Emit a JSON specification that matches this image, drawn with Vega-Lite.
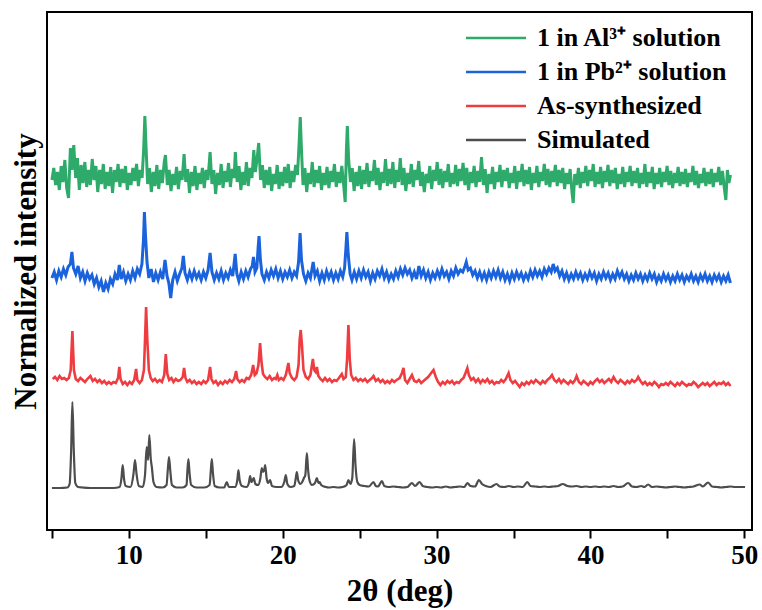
{
"$schema": "https://vega.github.io/schema/vega-lite/v6.json",
"width": 705, "height": 518,
"autosize": {"type": "none"},
"padding": {"left": 47, "top": 12, "right": 10, "bottom": 80},
"background": "white",
"config": {
  "view": {"stroke": "black", "strokeWidth": 2},
  "font": "Liberation Serif",
  "axis": {"grid": false, "labelFont": "Liberation Serif", "titleFont": "Liberation Serif", "labelFontWeight": "bold", "titleFontWeight": "bold", "labelColor": "black", "titleColor": "black"}
},
"datasets": {
"K": [{"x":5.0,"y":42},{"x":5.5,"y":42},{"x":6.0,"y":42.5},{"x":6.15,"y":46},{"x":6.25,"y":80},{"x":6.33,"y":128},{"x":6.42,"y":80},{"x":6.52,"y":47},{"x":6.7,"y":43},{"x":7.0,"y":42.5},{"x":7.5,"y":42},{"x":8.0,"y":42},{"x":8.5,"y":42},{"x":9.0,"y":42},{"x":9.4,"y":43},{"x":9.52,"y":52},{"x":9.6,"y":65},{"x":9.68,"y":52},{"x":9.8,"y":44},{"x":10.1,"y":43},{"x":10.3,"y":56},{"x":10.4,"y":70},{"x":10.5,"y":56},{"x":10.65,"y":44},{"x":10.9,"y":43},{"x":11.05,"y":55},{"x":11.16,"y":83},{"x":11.25,"y":70},{"x":11.33,"y":95},{"x":11.42,"y":72},{"x":11.5,"y":62},{"x":11.6,"y":48},{"x":11.8,"y":43},{"x":12.2,"y":42.5},{"x":12.45,"y":45},{"x":12.53,"y":60},{"x":12.61,"y":73},{"x":12.7,"y":58},{"x":12.8,"y":45},{"x":13.1,"y":42.5},{"x":13.5,"y":42.5},{"x":13.75,"y":45},{"x":13.8,"y":58},{"x":13.87,"y":71},{"x":13.95,"y":56},{"x":14.05,"y":45},{"x":14.4,"y":42.5},{"x":14.9,"y":42.5},{"x":15.25,"y":45},{"x":15.32,"y":58},{"x":15.39,"y":71},{"x":15.47,"y":56},{"x":15.58,"y":44},{"x":15.9,"y":42.5},{"x":16.2,"y":42.5},{"x":16.36,"y":48},{"x":16.5,"y":43},{"x":16.9,"y":43},{"x":17.05,"y":50},{"x":17.12,"y":60},{"x":17.2,"y":50},{"x":17.35,"y":44},{"x":17.65,"y":43},{"x":17.8,"y":47},{"x":17.88,"y":54},{"x":17.97,"y":48},{"x":18.05,"y":50},{"x":18.12,"y":52},{"x":18.22,"y":46},{"x":18.4,"y":45},{"x":18.55,"y":52},{"x":18.64,"y":62},{"x":18.72,"y":58},{"x":18.8,"y":60},{"x":18.86,"y":65},{"x":18.95,"y":52},{"x":19.05,"y":47},{"x":19.18,"y":50},{"x":19.3,"y":44},{"x":19.6,"y":43},{"x":19.9,"y":43},{"x":20.1,"y":48},{"x":20.2,"y":55},{"x":20.3,"y":46},{"x":20.5,"y":43},{"x":20.75,"y":44},{"x":20.85,"y":52},{"x":20.92,"y":58},{"x":21.0,"y":50},{"x":21.15,"y":46},{"x":21.3,"y":49},{"x":21.38,"y":52},{"x":21.47,"y":55},{"x":21.57,"y":77},{"x":21.65,"y":60},{"x":21.75,"y":49},{"x":21.9,"y":45},{"x":22.1,"y":47},{"x":22.22,"y":52},{"x":22.32,"y":47},{"x":22.4,"y":48},{"x":22.5,"y":45},{"x":22.8,"y":43},{"x":23.0,"y":42.5},{"x":23.3,"y":43},{"x":23.6,"y":42.5},{"x":23.9,"y":43},{"x":24.15,"y":45},{"x":24.27,"y":50},{"x":24.4,"y":46},{"x":24.52,"y":52},{"x":24.64,"y":91},{"x":24.73,"y":65},{"x":24.85,"y":48},{"x":25.0,"y":45},{"x":25.3,"y":44},{"x":25.6,"y":43.5},{"x":25.9,"y":48},{"x":26.05,"y":44},{"x":26.2,"y":43.5},{"x":26.45,"y":49},{"x":26.6,"y":44},{"x":26.9,"y":43},{"x":27.2,"y":43.5},{"x":27.5,"y":43},{"x":27.8,"y":42.5},{"x":28.1,"y":43},{"x":28.4,"y":47},{"x":28.6,"y":44},{"x":28.9,"y":48},{"x":29.1,"y":44},{"x":29.4,"y":43},{"x":29.7,"y":42.5},{"x":30.0,"y":43},{"x":30.3,"y":42.5},{"x":30.6,"y":43.5},{"x":30.9,"y":42.5},{"x":31.2,"y":43},{"x":31.5,"y":43.5},{"x":31.8,"y":43},{"x":32.0,"y":47},{"x":32.2,"y":44},{"x":32.5,"y":43.5},{"x":32.75,"y":50},{"x":32.95,"y":46},{"x":33.2,"y":44},{"x":33.5,"y":43},{"x":33.9,"y":46},{"x":34.1,"y":43.5},{"x":34.4,"y":43},{"x":34.7,"y":44},{"x":35.0,"y":43},{"x":35.3,"y":43.5},{"x":35.6,"y":43},{"x":35.9,"y":48},{"x":36.1,"y":44},{"x":36.4,"y":43.5},{"x":36.7,"y":43},{"x":37.0,"y":43.5},{"x":37.3,"y":43},{"x":37.6,"y":43.5},{"x":37.9,"y":44},{"x":38.2,"y":46},{"x":38.5,"y":44},{"x":38.8,"y":43.5},{"x":39.1,"y":44},{"x":39.4,"y":43},{"x":39.7,"y":43.5},{"x":40.0,"y":43},{"x":40.3,"y":43.5},{"x":40.6,"y":43},{"x":40.9,"y":43.5},{"x":41.2,"y":43},{"x":41.5,"y":44},{"x":41.8,"y":43},{"x":42.1,"y":43.5},{"x":42.45,"y":47},{"x":42.7,"y":43.5},{"x":43.0,"y":43},{"x":43.3,"y":44},{"x":43.5,"y":43},{"x":43.75,"y":45.5},{"x":44.0,"y":43},{"x":44.3,"y":43.5},{"x":44.6,"y":43},{"x":44.9,"y":42.5},{"x":45.2,"y":43},{"x":45.5,"y":43.5},{"x":45.8,"y":43},{"x":46.1,"y":42.5},{"x":46.4,"y":43},{"x":46.7,"y":43.5},{"x":47.1,"y":45.5},{"x":47.3,"y":43.5},{"x":47.65,"y":47.5},{"x":47.9,"y":43.5},{"x":48.2,"y":43},{"x":48.5,"y":42.5},{"x":48.8,"y":43},{"x":49.1,"y":43.5},{"x":49.4,"y":43},{"x":49.7,"y":43},{"x":50.05,"y":43}],
"R": [{"x":5.05,"y":151},{"x":5.2,"y":153},{"x":5.35,"y":150},{"x":5.5,"y":154},{"x":5.65,"y":151},{"x":5.8,"y":152},{"x":5.95,"y":150},{"x":6.1,"y":152},{"x":6.22,"y":160},{"x":6.33,"y":199},{"x":6.43,"y":160},{"x":6.55,"y":151},{"x":6.7,"y":149},{"x":6.85,"y":152},{"x":7.0,"y":150},{"x":7.15,"y":148},{"x":7.3,"y":151},{"x":7.5,"y":154},{"x":7.65,"y":149},{"x":7.8,"y":151},{"x":7.95,"y":148},{"x":8.1,"y":150},{"x":8.25,"y":147},{"x":8.4,"y":149},{"x":8.55,"y":146},{"x":8.7,"y":148},{"x":8.85,"y":146},{"x":9.0,"y":148},{"x":9.15,"y":147},{"x":9.3,"y":152},{"x":9.38,"y":163},{"x":9.46,"y":151},{"x":9.6,"y":146},{"x":9.75,"y":148},{"x":9.9,"y":145},{"x":10.05,"y":148},{"x":10.2,"y":146},{"x":10.35,"y":150},{"x":10.47,"y":161},{"x":10.55,"y":150},{"x":10.7,"y":147},{"x":10.85,"y":150},{"x":10.98,"y":160},{"x":11.05,"y":190},{"x":11.12,"y":223},{"x":11.2,"y":190},{"x":11.3,"y":160},{"x":11.42,"y":152},{"x":11.55,"y":149},{"x":11.7,"y":151},{"x":11.85,"y":148},{"x":12.0,"y":150},{"x":12.15,"y":148},{"x":12.3,"y":155},{"x":12.4,"y":176},{"x":12.5,"y":156},{"x":12.62,"y":150},{"x":12.77,"y":152},{"x":12.9,"y":148},{"x":13.05,"y":151},{"x":13.2,"y":149},{"x":13.35,"y":150},{"x":13.5,"y":153},{"x":13.59,"y":162},{"x":13.68,"y":152},{"x":13.8,"y":148},{"x":13.95,"y":150},{"x":14.1,"y":147},{"x":14.25,"y":149},{"x":14.4,"y":146},{"x":14.55,"y":148},{"x":14.7,"y":146},{"x":14.85,"y":149},{"x":15.0,"y":147},{"x":15.15,"y":150},{"x":15.28,"y":163},{"x":15.37,"y":151},{"x":15.5,"y":147},{"x":15.65,"y":149},{"x":15.8,"y":145},{"x":15.95,"y":148},{"x":16.1,"y":146},{"x":16.25,"y":149},{"x":16.4,"y":147},{"x":16.55,"y":150},{"x":16.7,"y":148},{"x":16.85,"y":151},{"x":16.97,"y":159},{"x":17.05,"y":151},{"x":17.2,"y":148},{"x":17.35,"y":150},{"x":17.5,"y":148},{"x":17.65,"y":152},{"x":17.8,"y":151},{"x":17.95,"y":155},{"x":18.08,"y":165},{"x":18.18,"y":155},{"x":18.3,"y":157},{"x":18.42,"y":165},{"x":18.53,"y":187},{"x":18.62,"y":168},{"x":18.72,"y":156},{"x":18.85,"y":153},{"x":19.0,"y":151},{"x":19.15,"y":154},{"x":19.3,"y":150},{"x":19.45,"y":152},{"x":19.55,"y":151},{"x":19.65,"y":155},{"x":19.75,"y":150},{"x":19.9,"y":152},{"x":20.05,"y":150},{"x":20.2,"y":155},{"x":20.3,"y":162},{"x":20.37,"y":167},{"x":20.45,"y":157},{"x":20.6,"y":152},{"x":20.75,"y":150},{"x":20.9,"y":153},{"x":21.03,"y":165},{"x":21.1,"y":190},{"x":21.17,"y":200},{"x":21.25,"y":185},{"x":21.35,"y":160},{"x":21.5,"y":153},{"x":21.65,"y":151},{"x":21.8,"y":155},{"x":21.9,"y":165},{"x":21.96,"y":171},{"x":22.05,"y":160},{"x":22.14,"y":158},{"x":22.22,"y":163},{"x":22.32,"y":154},{"x":22.45,"y":151},{"x":22.6,"y":149},{"x":22.75,"y":152},{"x":22.9,"y":149},{"x":23.05,"y":151},{"x":23.2,"y":148},{"x":23.35,"y":150},{"x":23.5,"y":149},{"x":23.65,"y":152},{"x":23.84,"y":156},{"x":23.95,"y":151},{"x":24.1,"y":153},{"x":24.18,"y":170},{"x":24.27,"y":205},{"x":24.36,"y":170},{"x":24.45,"y":155},{"x":24.6,"y":150},{"x":24.75,"y":152},{"x":24.9,"y":149},{"x":25.05,"y":151},{"x":25.2,"y":149},{"x":25.35,"y":151},{"x":25.5,"y":148},{"x":25.65,"y":150},{"x":25.8,"y":152},{"x":25.9,"y":154},{"x":26.05,"y":149},{"x":26.2,"y":151},{"x":26.35,"y":148},{"x":26.5,"y":150},{"x":26.65,"y":147},{"x":26.8,"y":149},{"x":26.95,"y":147},{"x":27.1,"y":150},{"x":27.25,"y":148},{"x":27.4,"y":150},{"x":27.6,"y":152},{"x":27.75,"y":157},{"x":27.85,"y":162},{"x":27.95,"y":150},{"x":28.1,"y":147},{"x":28.25,"y":151},{"x":28.4,"y":155},{"x":28.55,"y":149},{"x":28.7,"y":148},{"x":28.85,"y":150},{"x":29.0,"y":147},{"x":29.15,"y":149},{"x":29.3,"y":151},{"x":29.45,"y":153},{"x":29.6,"y":156},{"x":29.8,"y":160},{"x":29.95,"y":153},{"x":30.1,"y":148},{"x":30.25,"y":145},{"x":30.4,"y":148},{"x":30.55,"y":146},{"x":30.7,"y":149},{"x":30.85,"y":147},{"x":31.0,"y":149},{"x":31.15,"y":146},{"x":31.3,"y":148},{"x":31.45,"y":147},{"x":31.6,"y":150},{"x":31.75,"y":152},{"x":31.88,"y":157},{"x":32.0,"y":162},{"x":32.1,"y":155},{"x":32.25,"y":150},{"x":32.4,"y":152},{"x":32.55,"y":148},{"x":32.7,"y":151},{"x":32.85,"y":147},{"x":33.0,"y":150},{"x":33.15,"y":148},{"x":33.3,"y":151},{"x":33.45,"y":147},{"x":33.6,"y":149},{"x":33.75,"y":146},{"x":33.9,"y":148},{"x":34.05,"y":147},{"x":34.2,"y":150},{"x":34.35,"y":148},{"x":34.5,"y":151},{"x":34.68,"y":157},{"x":34.8,"y":150},{"x":34.95,"y":147},{"x":35.1,"y":149},{"x":35.25,"y":146},{"x":35.4,"y":143},{"x":35.55,"y":147},{"x":35.7,"y":145},{"x":35.85,"y":148},{"x":36.0,"y":146},{"x":36.15,"y":149},{"x":36.3,"y":147},{"x":36.45,"y":150},{"x":36.6,"y":148},{"x":36.75,"y":146},{"x":36.9,"y":149},{"x":37.05,"y":147},{"x":37.2,"y":150},{"x":37.35,"y":152},{"x":37.5,"y":155},{"x":37.65,"y":150},{"x":37.8,"y":148},{"x":37.95,"y":151},{"x":38.1,"y":147},{"x":38.25,"y":150},{"x":38.4,"y":148},{"x":38.55,"y":146},{"x":38.7,"y":149},{"x":38.85,"y":147},{"x":39.0,"y":150},{"x":39.1,"y":154},{"x":39.25,"y":148},{"x":39.4,"y":146},{"x":39.55,"y":149},{"x":39.7,"y":147},{"x":39.85,"y":145},{"x":40.0,"y":148},{"x":40.15,"y":146},{"x":40.3,"y":149},{"x":40.45,"y":151},{"x":40.6,"y":148},{"x":40.75,"y":150},{"x":40.9,"y":147},{"x":41.05,"y":149},{"x":41.2,"y":151},{"x":41.35,"y":148},{"x":41.5,"y":153},{"x":41.65,"y":149},{"x":41.8,"y":147},{"x":41.95,"y":150},{"x":42.1,"y":148},{"x":42.25,"y":146},{"x":42.4,"y":149},{"x":42.55,"y":147},{"x":42.7,"y":150},{"x":42.85,"y":148},{"x":43.0,"y":150},{"x":43.1,"y":153},{"x":43.25,"y":149},{"x":43.4,"y":146},{"x":43.55,"y":148},{"x":43.7,"y":145},{"x":43.85,"y":147},{"x":44.0,"y":145},{"x":44.15,"y":148},{"x":44.3,"y":146},{"x":44.45,"y":143},{"x":44.6,"y":146},{"x":44.75,"y":145},{"x":44.9,"y":147},{"x":45.05,"y":145},{"x":45.2,"y":148},{"x":45.35,"y":146},{"x":45.5,"y":144},{"x":45.65,"y":147},{"x":45.8,"y":145},{"x":45.95,"y":148},{"x":46.1,"y":146},{"x":46.25,"y":144},{"x":46.4,"y":146},{"x":46.55,"y":145},{"x":46.7,"y":148},{"x":46.85,"y":146},{"x":47.0,"y":143},{"x":47.15,"y":145},{"x":47.3,"y":147},{"x":47.45,"y":145},{"x":47.6,"y":147},{"x":47.75,"y":144},{"x":47.9,"y":146},{"x":48.05,"y":148},{"x":48.2,"y":145},{"x":48.35,"y":147},{"x":48.5,"y":146},{"x":48.65,"y":148},{"x":48.8,"y":145},{"x":48.95,"y":147},{"x":49.1,"y":144}],
"B": [{"x":5.0,"y":252},{"x":5.15,"y":258},{"x":5.3,"y":250},{"x":5.45,"y":259},{"x":5.6,"y":253},{"x":5.75,"y":261},{"x":5.9,"y":255},{"x":6.05,"y":263},{"x":6.2,"y":266},{"x":6.3,"y":278},{"x":6.4,"y":262},{"x":6.55,"y":256},{"x":6.7,"y":264},{"x":6.85,"y":252},{"x":7.0,"y":258},{"x":7.15,"y":249},{"x":7.3,"y":257},{"x":7.45,"y":251},{"x":7.6,"y":255},{"x":7.75,"y":246},{"x":7.9,"y":252},{"x":8.05,"y":243},{"x":8.2,"y":249},{"x":8.35,"y":238},{"x":8.5,"y":247},{"x":8.65,"y":241},{"x":8.8,"y":251},{"x":8.95,"y":246},{"x":9.1,"y":256},{"x":9.25,"y":250},{"x":9.38,"y":265},{"x":9.5,"y":251},{"x":9.65,"y":258},{"x":9.8,"y":249},{"x":9.95,"y":256},{"x":10.1,"y":250},{"x":10.25,"y":259},{"x":10.4,"y":252},{"x":10.55,"y":261},{"x":10.7,"y":256},{"x":10.85,"y":266},{"x":10.95,"y":290},{"x":11.01,"y":318},{"x":11.08,"y":295},{"x":11.18,"y":268},{"x":11.3,"y":252},{"x":11.45,"y":261},{"x":11.6,"y":248},{"x":11.75,"y":257},{"x":11.9,"y":250},{"x":12.05,"y":258},{"x":12.2,"y":251},{"x":12.35,"y":270},{"x":12.48,"y":254},{"x":12.6,"y":247},{"x":12.72,"y":232},{"x":12.85,"y":250},{"x":13.0,"y":258},{"x":13.15,"y":249},{"x":13.3,"y":256},{"x":13.45,"y":262},{"x":13.54,"y":274},{"x":13.65,"y":257},{"x":13.8,"y":250},{"x":13.95,"y":258},{"x":14.1,"y":251},{"x":14.25,"y":259},{"x":14.4,"y":252},{"x":14.55,"y":257},{"x":14.7,"y":250},{"x":14.85,"y":258},{"x":15.0,"y":252},{"x":15.15,"y":260},{"x":15.28,"y":277},{"x":15.4,"y":258},{"x":15.55,"y":250},{"x":15.7,"y":257},{"x":15.85,"y":251},{"x":16.0,"y":259},{"x":16.15,"y":250},{"x":16.3,"y":257},{"x":16.45,"y":252},{"x":16.6,"y":260},{"x":16.75,"y":254},{"x":16.91,"y":276},{"x":17.02,"y":256},{"x":17.15,"y":249},{"x":17.3,"y":258},{"x":17.45,"y":251},{"x":17.6,"y":259},{"x":17.75,"y":253},{"x":17.9,"y":261},{"x":18.02,"y":264},{"x":18.1,"y":273},{"x":18.2,"y":258},{"x":18.32,"y":262},{"x":18.4,"y":282},{"x":18.46,"y":294},{"x":18.55,"y":270},{"x":18.65,"y":256},{"x":18.8,"y":250},{"x":18.95,"y":258},{"x":19.1,"y":252},{"x":19.25,"y":260},{"x":19.4,"y":254},{"x":19.55,"y":261},{"x":19.7,"y":252},{"x":19.85,"y":259},{"x":20.0,"y":251},{"x":20.15,"y":258},{"x":20.3,"y":253},{"x":20.45,"y":260},{"x":20.6,"y":252},{"x":20.75,"y":258},{"x":20.9,"y":254},{"x":21.03,"y":268},{"x":21.13,"y":297},{"x":21.22,"y":270},{"x":21.35,"y":256},{"x":21.5,"y":249},{"x":21.65,"y":257},{"x":21.8,"y":252},{"x":21.98,"y":268},{"x":22.1,"y":254},{"x":22.25,"y":259},{"x":22.4,"y":249},{"x":22.55,"y":257},{"x":22.7,"y":250},{"x":22.85,"y":259},{"x":23.0,"y":252},{"x":23.15,"y":258},{"x":23.3,"y":250},{"x":23.45,"y":257},{"x":23.6,"y":251},{"x":23.75,"y":259},{"x":23.9,"y":253},{"x":24.02,"y":262},{"x":24.1,"y":280},{"x":24.17,"y":298},{"x":24.26,"y":275},{"x":24.38,"y":256},{"x":24.5,"y":250},{"x":24.65,"y":258},{"x":24.8,"y":251},{"x":24.95,"y":259},{"x":25.1,"y":252},{"x":25.25,"y":260},{"x":25.4,"y":253},{"x":25.55,"y":258},{"x":25.7,"y":249},{"x":25.85,"y":257},{"x":26.0,"y":251},{"x":26.15,"y":259},{"x":26.3,"y":254},{"x":26.45,"y":261},{"x":26.6,"y":252},{"x":26.75,"y":258},{"x":26.9,"y":250},{"x":27.05,"y":256},{"x":27.2,"y":251},{"x":27.35,"y":259},{"x":27.5,"y":253},{"x":27.65,"y":261},{"x":27.8,"y":255},{"x":27.95,"y":262},{"x":28.1,"y":256},{"x":28.25,"y":260},{"x":28.4,"y":252},{"x":28.55,"y":258},{"x":28.7,"y":251},{"x":28.85,"y":264},{"x":29.0,"y":254},{"x":29.15,"y":260},{"x":29.3,"y":252},{"x":29.45,"y":258},{"x":29.6,"y":250},{"x":29.75,"y":257},{"x":29.9,"y":252},{"x":30.05,"y":259},{"x":30.2,"y":253},{"x":30.35,"y":261},{"x":30.5,"y":254},{"x":30.65,"y":258},{"x":30.8,"y":251},{"x":30.95,"y":259},{"x":31.1,"y":254},{"x":31.25,"y":262},{"x":31.4,"y":256},{"x":31.55,"y":260},{"x":31.7,"y":258},{"x":31.85,"y":264},{"x":31.93,"y":268},{"x":32.05,"y":260},{"x":32.2,"y":262},{"x":32.35,"y":255},{"x":32.5,"y":259},{"x":32.65,"y":252},{"x":32.8,"y":258},{"x":32.95,"y":251},{"x":33.1,"y":257},{"x":33.25,"y":250},{"x":33.4,"y":258},{"x":33.55,"y":252},{"x":33.7,"y":259},{"x":33.85,"y":253},{"x":34.0,"y":260},{"x":34.15,"y":252},{"x":34.3,"y":258},{"x":34.45,"y":250},{"x":34.6,"y":256},{"x":34.75,"y":249},{"x":34.9,"y":257},{"x":35.05,"y":251},{"x":35.2,"y":258},{"x":35.35,"y":252},{"x":35.5,"y":257},{"x":35.65,"y":250},{"x":35.8,"y":256},{"x":35.95,"y":251},{"x":36.1,"y":259},{"x":36.25,"y":253},{"x":36.4,"y":260},{"x":36.55,"y":254},{"x":36.7,"y":259},{"x":36.85,"y":253},{"x":37.0,"y":261},{"x":37.15,"y":256},{"x":37.3,"y":262},{"x":37.45,"y":258},{"x":37.58,"y":266},{"x":37.7,"y":259},{"x":37.85,"y":262},{"x":38.0,"y":254},{"x":38.15,"y":259},{"x":38.3,"y":251},{"x":38.45,"y":257},{"x":38.6,"y":250},{"x":38.75,"y":256},{"x":38.9,"y":251},{"x":39.05,"y":258},{"x":39.2,"y":252},{"x":39.35,"y":257},{"x":39.5,"y":250},{"x":39.65,"y":256},{"x":39.8,"y":251},{"x":39.95,"y":258},{"x":40.1,"y":252},{"x":40.25,"y":257},{"x":40.4,"y":249},{"x":40.55,"y":256},{"x":40.7,"y":251},{"x":40.85,"y":258},{"x":41.0,"y":252},{"x":41.15,"y":257},{"x":41.3,"y":250},{"x":41.45,"y":256},{"x":41.6,"y":251},{"x":41.75,"y":259},{"x":41.9,"y":253},{"x":42.05,"y":258},{"x":42.2,"y":251},{"x":42.35,"y":256},{"x":42.5,"y":249},{"x":42.65,"y":255},{"x":42.8,"y":250},{"x":42.95,"y":257},{"x":43.1,"y":251},{"x":43.25,"y":256},{"x":43.4,"y":249},{"x":43.55,"y":255},{"x":43.7,"y":250},{"x":43.85,"y":257},{"x":44.0,"y":251},{"x":44.15,"y":256},{"x":44.3,"y":248},{"x":44.45,"y":254},{"x":44.6,"y":249},{"x":44.75,"y":256},{"x":44.9,"y":250},{"x":45.05,"y":255},{"x":45.2,"y":248},{"x":45.35,"y":254},{"x":45.5,"y":249},{"x":45.65,"y":256},{"x":45.8,"y":250},{"x":45.95,"y":255},{"x":46.1,"y":248},{"x":46.25,"y":254},{"x":46.4,"y":250},{"x":46.55,"y":256},{"x":46.7,"y":249},{"x":46.85,"y":254},{"x":47.0,"y":248},{"x":47.15,"y":255},{"x":47.3,"y":250},{"x":47.45,"y":256},{"x":47.6,"y":249},{"x":47.75,"y":254},{"x":47.9,"y":248},{"x":48.05,"y":255},{"x":48.2,"y":250},{"x":48.35,"y":255},{"x":48.5,"y":248},{"x":48.65,"y":254},{"x":48.8,"y":249},{"x":48.95,"y":255},{"x":49.1,"y":247}],
"G": [{"x":5.0,"y":350},{"x":5.12,"y":362},{"x":5.24,"y":345},{"x":5.36,"y":358},{"x":5.48,"y":340},{"x":5.6,"y":364},{"x":5.72,"y":348},{"x":5.84,"y":370},{"x":5.96,"y":342},{"x":6.08,"y":332},{"x":6.2,"y":382},{"x":6.3,"y":360},{"x":6.42,"y":385},{"x":6.54,"y":352},{"x":6.66,"y":372},{"x":6.78,"y":340},{"x":6.9,"y":365},{"x":7.02,"y":347},{"x":7.14,"y":368},{"x":7.26,"y":343},{"x":7.38,"y":360},{"x":7.5,"y":345},{"x":7.62,"y":371},{"x":7.74,"y":350},{"x":7.86,"y":364},{"x":7.98,"y":338},{"x":8.1,"y":360},{"x":8.22,"y":346},{"x":8.34,"y":366},{"x":8.46,"y":341},{"x":8.58,"y":358},{"x":8.7,"y":344},{"x":8.82,"y":363},{"x":8.94,"y":337},{"x":9.06,"y":360},{"x":9.18,"y":348},{"x":9.3,"y":366},{"x":9.42,"y":343},{"x":9.54,"y":361},{"x":9.66,"y":347},{"x":9.78,"y":364},{"x":9.9,"y":340},{"x":10.02,"y":357},{"x":10.14,"y":345},{"x":10.26,"y":362},{"x":10.38,"y":349},{"x":10.5,"y":366},{"x":10.62,"y":344},{"x":10.74,"y":360},{"x":10.86,"y":352},{"x":10.96,"y":380},{"x":11.04,"y":414},{"x":11.12,"y":382},{"x":11.22,"y":346},{"x":11.34,"y":362},{"x":11.46,"y":338},{"x":11.58,"y":358},{"x":11.7,"y":344},{"x":11.82,"y":365},{"x":11.94,"y":341},{"x":12.06,"y":360},{"x":12.18,"y":347},{"x":12.3,"y":368},{"x":12.38,"y":375},{"x":12.5,"y":345},{"x":12.62,"y":360},{"x":12.74,"y":339},{"x":12.86,"y":356},{"x":12.98,"y":345},{"x":13.1,"y":363},{"x":13.22,"y":341},{"x":13.34,"y":359},{"x":13.46,"y":350},{"x":13.59,"y":376},{"x":13.7,"y":348},{"x":13.82,"y":361},{"x":13.94,"y":337},{"x":14.06,"y":358},{"x":14.18,"y":344},{"x":14.3,"y":364},{"x":14.42,"y":340},{"x":14.54,"y":357},{"x":14.66,"y":346},{"x":14.78,"y":362},{"x":14.9,"y":342},{"x":15.02,"y":360},{"x":15.14,"y":350},{"x":15.28,"y":378},{"x":15.4,"y":346},{"x":15.52,"y":360},{"x":15.64,"y":336},{"x":15.76,"y":357},{"x":15.88,"y":345},{"x":16.0,"y":366},{"x":16.12,"y":342},{"x":16.24,"y":359},{"x":16.36,"y":348},{"x":16.48,"y":367},{"x":16.6,"y":343},{"x":16.72,"y":361},{"x":16.84,"y":352},{"x":16.92,"y":378},{"x":17.04,"y":348},{"x":17.16,"y":364},{"x":17.28,"y":340},{"x":17.4,"y":358},{"x":17.52,"y":345},{"x":17.64,"y":368},{"x":17.76,"y":344},{"x":17.88,"y":362},{"x":18.0,"y":352},{"x":18.12,"y":380},{"x":18.22,"y":358},{"x":18.34,"y":372},{"x":18.44,"y":387},{"x":18.56,"y":350},{"x":18.68,"y":365},{"x":18.8,"y":342},{"x":18.92,"y":360},{"x":19.04,"y":345},{"x":19.16,"y":363},{"x":19.28,"y":339},{"x":19.4,"y":356},{"x":19.52,"y":346},{"x":19.64,"y":365},{"x":19.76,"y":341},{"x":19.88,"y":358},{"x":20.0,"y":344},{"x":20.12,"y":363},{"x":20.24,"y":347},{"x":20.36,"y":366},{"x":20.48,"y":342},{"x":20.6,"y":359},{"x":20.72,"y":348},{"x":20.84,"y":365},{"x":20.96,"y":355},{"x":21.06,"y":385},{"x":21.14,"y":413},{"x":21.22,"y":380},{"x":21.32,"y":345},{"x":21.44,"y":362},{"x":21.56,"y":338},{"x":21.68,"y":357},{"x":21.8,"y":346},{"x":21.92,"y":368},{"x":22.04,"y":343},{"x":22.16,"y":360},{"x":22.28,"y":347},{"x":22.4,"y":364},{"x":22.52,"y":340},{"x":22.64,"y":357},{"x":22.76,"y":345},{"x":22.88,"y":363},{"x":23.0,"y":342},{"x":23.12,"y":359},{"x":23.24,"y":348},{"x":23.36,"y":366},{"x":23.48,"y":343},{"x":23.6,"y":358},{"x":23.72,"y":347},{"x":23.84,"y":364},{"x":23.96,"y":345},{"x":24.06,"y":328},{"x":24.14,"y":380},{"x":24.2,"y":404},{"x":24.28,"y":372},{"x":24.4,"y":348},{"x":24.52,"y":362},{"x":24.64,"y":339},{"x":24.76,"y":358},{"x":24.88,"y":344},{"x":25.0,"y":364},{"x":25.12,"y":341},{"x":25.24,"y":360},{"x":25.36,"y":346},{"x":25.48,"y":367},{"x":25.6,"y":343},{"x":25.72,"y":359},{"x":25.84,"y":349},{"x":25.96,"y":370},{"x":26.08,"y":345},{"x":26.2,"y":362},{"x":26.32,"y":340},{"x":26.44,"y":358},{"x":26.56,"y":347},{"x":26.68,"y":371},{"x":26.8,"y":344},{"x":26.92,"y":361},{"x":27.04,"y":346},{"x":27.16,"y":368},{"x":27.28,"y":342},{"x":27.4,"y":360},{"x":27.52,"y":348},{"x":27.64,"y":372},{"x":27.76,"y":345},{"x":27.88,"y":362},{"x":28.0,"y":339},{"x":28.12,"y":357},{"x":28.24,"y":346},{"x":28.36,"y":366},{"x":28.48,"y":343},{"x":28.6,"y":360},{"x":28.72,"y":350},{"x":28.84,"y":369},{"x":28.96,"y":344},{"x":29.08,"y":358},{"x":29.2,"y":338},{"x":29.32,"y":356},{"x":29.44,"y":347},{"x":29.56,"y":364},{"x":29.68,"y":341},{"x":29.8,"y":360},{"x":29.92,"y":349},{"x":30.04,"y":368},{"x":30.16,"y":345},{"x":30.28,"y":361},{"x":30.4,"y":342},{"x":30.52,"y":359},{"x":30.64,"y":348},{"x":30.76,"y":366},{"x":30.88,"y":343},{"x":31.0,"y":357},{"x":31.12,"y":346},{"x":31.24,"y":365},{"x":31.36,"y":344},{"x":31.48,"y":361},{"x":31.6,"y":349},{"x":31.72,"y":367},{"x":31.84,"y":345},{"x":31.96,"y":362},{"x":32.08,"y":340},{"x":32.2,"y":358},{"x":32.32,"y":347},{"x":32.44,"y":364},{"x":32.56,"y":343},{"x":32.68,"y":359},{"x":32.8,"y":348},{"x":32.92,"y":373},{"x":33.04,"y":345},{"x":33.16,"y":361},{"x":33.28,"y":337},{"x":33.4,"y":356},{"x":33.52,"y":346},{"x":33.64,"y":363},{"x":33.76,"y":341},{"x":33.88,"y":358},{"x":34.0,"y":348},{"x":34.12,"y":365},{"x":34.24,"y":343},{"x":34.36,"y":360},{"x":34.48,"y":349},{"x":34.6,"y":362},{"x":34.72,"y":342},{"x":34.84,"y":357},{"x":34.96,"y":347},{"x":35.08,"y":364},{"x":35.2,"y":341},{"x":35.32,"y":359},{"x":35.44,"y":348},{"x":35.56,"y":366},{"x":35.68,"y":344},{"x":35.8,"y":360},{"x":35.92,"y":346},{"x":36.04,"y":363},{"x":36.16,"y":340},{"x":36.28,"y":357},{"x":36.4,"y":347},{"x":36.52,"y":364},{"x":36.64,"y":343},{"x":36.76,"y":358},{"x":36.88,"y":349},{"x":37.0,"y":366},{"x":37.12,"y":345},{"x":37.24,"y":361},{"x":37.36,"y":343},{"x":37.48,"y":359},{"x":37.6,"y":348},{"x":37.72,"y":365},{"x":37.84,"y":344},{"x":37.96,"y":360},{"x":38.08,"y":347},{"x":38.2,"y":362},{"x":38.32,"y":341},{"x":38.44,"y":357},{"x":38.56,"y":346},{"x":38.68,"y":361},{"x":38.8,"y":338},{"x":38.88,"y":327},{"x":38.98,"y":356},{"x":39.1,"y":345},{"x":39.22,"y":362},{"x":39.34,"y":342},{"x":39.46,"y":358},{"x":39.58,"y":347},{"x":39.7,"y":364},{"x":39.82,"y":344},{"x":39.94,"y":360},{"x":40.06,"y":349},{"x":40.18,"y":366},{"x":40.3,"y":343},{"x":40.42,"y":358},{"x":40.54,"y":346},{"x":40.66,"y":363},{"x":40.78,"y":342},{"x":40.9,"y":359},{"x":41.02,"y":348},{"x":41.14,"y":365},{"x":41.26,"y":344},{"x":41.38,"y":360},{"x":41.5,"y":347},{"x":41.62,"y":362},{"x":41.74,"y":341},{"x":41.86,"y":356},{"x":41.98,"y":346},{"x":42.1,"y":363},{"x":42.22,"y":343},{"x":42.34,"y":358},{"x":42.46,"y":348},{"x":42.58,"y":364},{"x":42.7,"y":344},{"x":42.82,"y":359},{"x":42.94,"y":347},{"x":43.06,"y":362},{"x":43.18,"y":342},{"x":43.3,"y":357},{"x":43.42,"y":346},{"x":43.54,"y":366},{"x":43.66,"y":343},{"x":43.78,"y":358},{"x":43.9,"y":347},{"x":44.02,"y":363},{"x":44.14,"y":341},{"x":44.26,"y":357},{"x":44.38,"y":346},{"x":44.5,"y":362},{"x":44.62,"y":343},{"x":44.74,"y":358},{"x":44.86,"y":348},{"x":44.98,"y":364},{"x":45.1,"y":345},{"x":45.22,"y":359},{"x":45.34,"y":342},{"x":45.46,"y":357},{"x":45.58,"y":347},{"x":45.7,"y":363},{"x":45.82,"y":344},{"x":45.94,"y":358},{"x":46.06,"y":346},{"x":46.18,"y":361},{"x":46.3,"y":343},{"x":46.42,"y":357},{"x":46.54,"y":348},{"x":46.66,"y":364},{"x":46.78,"y":345},{"x":46.9,"y":359},{"x":47.02,"y":342},{"x":47.14,"y":356},{"x":47.26,"y":347},{"x":47.38,"y":362},{"x":47.5,"y":344},{"x":47.62,"y":358},{"x":47.74,"y":346},{"x":47.86,"y":361},{"x":47.98,"y":343},{"x":48.1,"y":357},{"x":48.22,"y":348},{"x":48.34,"y":363},{"x":48.46,"y":345},{"x":48.58,"y":359},{"x":48.7,"y":342},{"x":48.8,"y":330},{"x":48.9,"y":360},{"x":49.0,"y":347},{"x":49.1,"y":355}]
},
"encoding": {
  "x": {"field": "x", "type": "quantitative", "scale": {"domain": [4.68, 50.5], "nice": false, "zero": false},
        "axis": {"values": [5,10,15,20,25,30,35,40,45,50], "labelExpr": "datum.value % 10 === 0 ? datum.label : ''", "title": "2θ (deg)", "labelFontSize": 27, "titleFontSize": 31, "domain": false, "tickSize": 8, "tickWidth": 2, "tickColor": "black", "labelPadding": 4, "titlePadding": 8, "labelFlush": false}},
  "y": {"field": "y", "type": "quantitative", "scale": {"domain": [0, 518], "nice": false, "zero": false},
        "axis": {"labels": false, "ticks": false, "domain": false, "title": "Normalized intensity", "titleFontSize": 31, "titlePadding": 5}}
},
"layer": [
  {"data": {"name": "K"}, "mark": {"type": "line", "strokeWidth": 2.2, "interpolate": "monotone"},
   "encoding": {"color": {"datum": "Simulated", "type": "nominal",
     "scale": {"domain": ["1 in Al³⁺ solution", "1 in Pb²⁺ solution", "As-synthesized", "Simulated"], "range": ["#2eaa6a", "#1b63dc", "#ef3c40", "#4d4d4d"]},
     "legend": {"title": null, "orient": "none", "legendX": 456, "legendY": 13, "padding": 0, "labelFont": "Liberation Serif", "labelFontWeight": "bold", "labelFontSize": 26, "labelColor": "black", "labelOffset": 8, "rowPadding": 8, "symbolType": "M-5,0H1", "symbolSize": 400, "symbolStrokeWidth": 2.5, "labelLimit": 400}}}},
  {"data": {"name": "R"}, "mark": {"type": "line", "strokeWidth": 2.6},
   "encoding": {"color": {"datum": "As-synthesized", "type": "nominal"}}},
  {"data": {"name": "B"}, "mark": {"type": "line", "strokeWidth": 3},
   "encoding": {"color": {"datum": "1 in Pb²⁺ solution", "type": "nominal"}}},
  {"data": {"name": "G"}, "mark": {"type": "line", "strokeWidth": 3},
   "encoding": {"color": {"datum": "1 in Al³⁺ solution", "type": "nominal"}}}
]
}
